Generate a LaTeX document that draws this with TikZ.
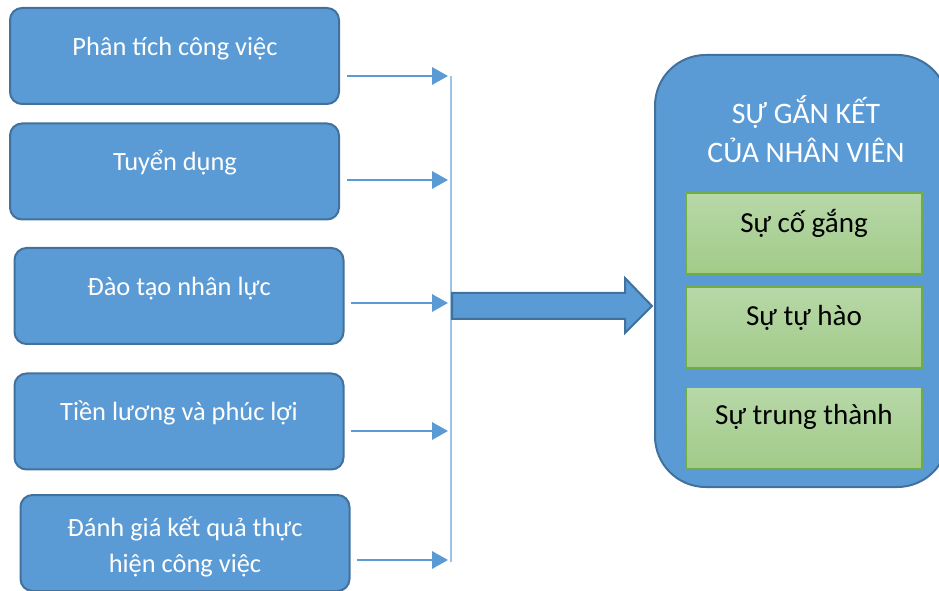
\documentclass[tikz,border=0pt]{standalone}
\usepackage{fontspec}
\setmainfont{Carlito}
\usetikzlibrary{arrows.meta}

\definecolor{boxblue}{HTML}{5B9BD5}
\definecolor{edgeblue}{HTML}{41719C}
\definecolor{busblue}{HTML}{9DC3E6}
\definecolor{greentop}{HTML}{B7D8A8}
\definecolor{greenbot}{HTML}{A2CB89}
\definecolor{greenedge}{HTML}{70AD47}

\tikzset{
  hrbox/.style={draw=edgeblue, line width=1.5pt, fill=boxblue,
    rounded corners=9pt, minimum width=246.75pt, minimum height=72pt,
    inner sep=0pt},
  hrtext/.style={text=white, font=\fontsize{19.8}{27}\selectfont, align=center},
  feed/.style={draw=boxblue, line width=1.8pt, shorten <=5pt,
    -{Triangle[length=12pt,width=13pt]}},
  bus/.style={draw=busblue, line width=1.2pt},
  engbox/.style={draw=edgeblue, line width=1.5pt, fill=boxblue,
    rounded corners=38pt, minimum width=219.75pt, minimum height=324pt,
    inner sep=0pt},
  facet/.style={draw=greenedge, line width=1pt, top color=greentop,
    bottom color=greenbot, minimum width=177pt, minimum height=60.75pt,
    inner sep=0pt},
  facettext/.style={font=\fontsize{21.8}{26}\selectfont}
}

\begin{document}
\begin{tikzpicture}[x=0.75pt, y=-0.75pt]
    \useasboundingbox (0,0) rectangle (939,591);

    % left column
    \node[hrbox] (p1) at (174.5,56) {};
    \node[hrbox] (p2) at (174.5,171.5) {};
    \node[hrbox] (p3) at (179,296) {};
    \node[hrbox] (p4) at (179,421.5) {};
    \node[hrbox] (p5) at (185,543) {};

    \node[hrtext] (t1) at (175,48.5) {Phân tích công việc};
    \node[hrtext] (t2) at (175,162.5) {Tuyển dụng};
    \node[hrtext] (t3) at (179,288.5) {Đào tạo nhân lực};
    \node[hrtext] (t4) at (179,412.5) {Tiền lương và phúc lợi};
    \node[hrtext] (t5) at (185,547) {Đánh giá kết quả thực\\hiện công việc};

    % arrows into the bus
    \coordinate (j1) at (448,76);
    \coordinate (j2) at (448,180);
    \coordinate (j3) at (448,303);
    \coordinate (j4) at (448,431);
    \coordinate (j5) at (448,560);
    \coordinate (bustop) at (451,76);
    \coordinate (busbot) at (451,562);

    \draw[bus] (bustop) -- (busbot);
    \foreach \i in {1,...,5}
        \draw[feed] (p\i.east |- j\i) -- (j\i);

    % big arrow
    \coordinate (s1) at (452,293);
    \coordinate (s2) at (625,293);
    \coordinate (h1) at (625,278);
    \coordinate (tip) at (652,306);
    \coordinate (h2) at (625,333);
    \coordinate (s3) at (625,319);
    \coordinate (s4) at (452,319);
    \draw[draw=edgeblue, line width=1.5pt, fill=boxblue]
        (s1) -- (s2) -- (h1) -- (tip) -- (h2) -- (s3) -- (s4) -- cycle;

    % right side
    \node[engbox] (eng) at (801.5,271) {};
    \node[hrtext, font=\fontsize{22.3}{29}\selectfont] (title) at (806,129)
        {SỰ GẮN KẾT\\CỦA NHÂN VIÊN};

    \node[facet] (f1) at (804,233.5) {};
    \node[facet] (f2) at (804,327.5) {};
    \node[facet] (f3) at (804,428) {};
    \node[facettext] at (804,223) {Sự cố gắng};
    \node[facettext] at (804,318) {Sự tự hào};
    \node[facettext] at (804,417) {Sự trung thành};

\end{tikzpicture}
\end{document}
